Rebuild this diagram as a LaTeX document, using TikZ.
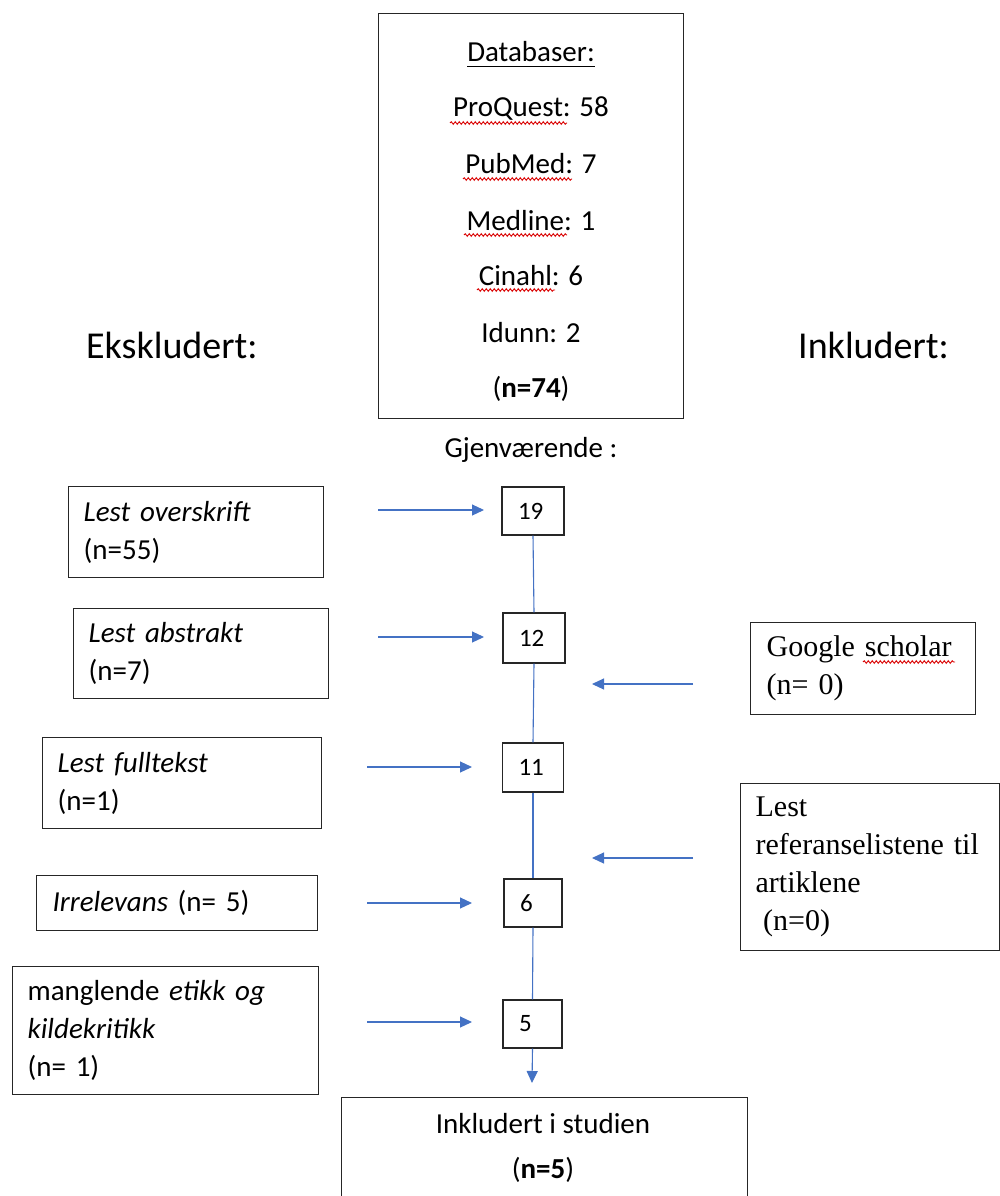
\documentclass[tikz,border=0pt]{standalone}
\usepackage{fontspec}
\setmainfont{Carlito}
\newfontfamily\timesf{Liberation Serif}
\usetikzlibrary{arrows.meta,decorations.pathmorphing}
\definecolor{arrowblue}{HTML}{4472C4}
\definecolor{boxline}{HTML}{262626}
\begin{document}
\begin{tikzpicture}[x=1pt,y=-1pt,
  box/.style={draw=boxline,line width=1.3pt,inner sep=0pt},
  txtbox/.style={box,align=left,inner xsep=15pt,inner ysep=0pt,anchor=north west,
     font=\fontsize{29}{38}\selectfont},
  serifbox/.style={box,align=left,inner xsep=15pt,inner ysep=0pt,anchor=north west,
     font=\timesf\fontsize{30}{38}\selectfont},
  numbox/.style={box,align=left,inner xsep=16pt,anchor=center,
     font=\fontsize{25}{30}\selectfont},
  label/.style={inner sep=0pt,anchor=base,font=\fontsize{29}{35}\selectfont},
  heading/.style={inner sep=0pt,anchor=base west,font=\fontsize{38}{45}\selectfont},
  flow/.style={draw=arrowblue,line width=1.1pt},
  flowarrow/.style={flow,-{Triangle[length=12pt,width=11pt]}},
  spell/.style={draw=red!85!black,line width=0.9pt,decorate,
     decoration={snake,amplitude=1.3pt,segment length=4pt}}
]
\useasboundingbox (0,0) rectangle (1000,1196);
\clip (0,0) rectangle (1000,1196);

% database box
\node[box,anchor=north west,minimum width=305pt,minimum height=405pt] (db) at (378,13) {};
\node[label] (dbh) at (531,62) {Databaser:};
\draw[line width=1.2pt] ([yshift=-4.8pt]dbh.base west) -- ([yshift=-4.8pt]dbh.base east);
\node[label] (pq) at (531,117) {ProQuest: 58};
\node[label] (pm) at (531,173) {PubMed: 7};
\node[label] (ml) at (531,230) {Medline: 1};
\node[label] (ci) at (531,285) {Cinahl: 6};
\node[label] (id) at (531,342) {Idunn: 2};
\node[label] (nt) at (531,397) {(\textbf{n=74})};
\draw[spell] (450,123) -- (567,123);
\draw[spell] (463,179) -- (572,179);
\draw[spell] (464,235) -- (567,235);
\draw[spell] (477,290) -- (555,290);

% headings
\node[heading] (eks) at (86,358) {Ekskludert:};
\node[heading] (ink) at (798,358) {Inkludert:};
\node[label] (gj) at (531,457) {Gjenværende :};

% left boxes
\node[txtbox,text width=225pt,minimum height=91pt] (l1) at (68,486)
  {\textit{Lest overskrift}\\(n=55)};
\node[txtbox,text width=225pt,minimum height=90pt] (l2) at (73,608)
  {\textit{Lest abstrakt}\\(n=7)};
\node[txtbox,text width=249pt,minimum height=91pt] (l3) at (42,737)
  {\textit{Lest fulltekst}\\(n=1)};
\node[txtbox,text width=249pt,minimum height=55pt,inner xsep=16pt] (l4) at (36,875)
  {\textit{Irrelevans} (n= 5)};
\node[txtbox,text width=276pt,minimum height=128pt] (l5) at (12,966)
  {manglende \textit{etikk og}\\\textit{kildekritikk}\\(n= 1)};

% centre count boxes
\node[numbox,text width=30pt,minimum height=48pt] (c19) at (533,511) {19};
\node[numbox,text width=30pt,minimum height=50pt] (c12) at (534,638) {12};
\node[numbox,text width=29pt,minimum height=49pt] (c11) at (533,767.5) {11};
\node[numbox,text width=26pt,minimum height=48pt] (c6) at (533,903) {6};
\node[numbox,text width=27pt,minimum height=48pt] (c5) at (532.5,1024) {5};

% final box
\node[box,anchor=north west,minimum width=406pt,minimum height=140pt] (fin) at (341,1097) {};
\node[label] (fin1) at (543,1133) {Inkludert i studien};
\node[label] (fin2) at (543,1178) {(\textbf{n=5})};

% right boxes
\node[serifbox,text width=193pt,minimum height=92pt,inner xsep=16pt] (g) at (750,622)
  {Google scholar\\(n= 0)};
\draw[spell] (863,662) -- (955,662);
\node[serifbox,text width=229pt,minimum height=167pt] (r) at (740,783)
  {Lest\\referanselistene til\\artiklene\\\hspace*{0.25em}(n=0)};

% vertical flow
\draw[flow] (c19.south) -- (c12.north);
\draw[flow] (c12.south) -- (c11.north);
\draw[flow] (c11.south) -- (c6.north);
\draw[flow] (c6.south) -- (c5.north);
\coordinate (finin) at (532,1083);
\draw[flowarrow] (c5.south) -- (finin);

% horizontal arrows (excluded)
\coordinate (a1s) at (378,510); \coordinate (a1e) at (484,510);
\coordinate (a2s) at (378,637); \coordinate (a2e) at (484,637);
\coordinate (a3s) at (367,767); \coordinate (a3e) at (472,767);
\coordinate (a4s) at (367,903); \coordinate (a4e) at (472,903);
\coordinate (a5s) at (367,1022); \coordinate (a5e) at (472,1022);
\draw[flowarrow] (a1s) -- (a1e);
\draw[flowarrow] (a2s) -- (a2e);
\draw[flowarrow] (a3s) -- (a3e);
\draw[flowarrow] (a4s) -- (a4e);
\draw[flowarrow] (a5s) -- (a5e);

% horizontal arrows (included)
\coordinate (b1s) at (693,684); \coordinate (b1e) at (592,684);
\coordinate (b2s) at (693,858); \coordinate (b2e) at (592,858);
\draw[flowarrow] (b1s) -- (b1e);
\draw[flowarrow] (b2s) -- (b2e);
\end{tikzpicture}
\end{document}
